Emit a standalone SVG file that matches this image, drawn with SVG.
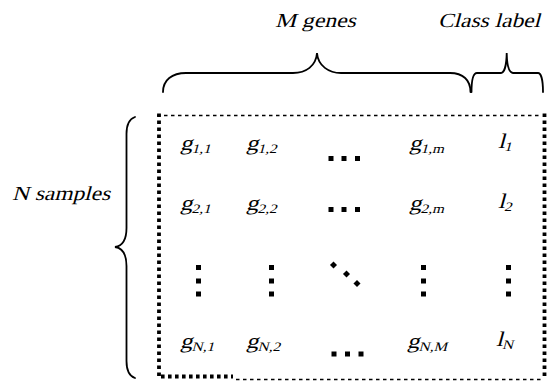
<svg xmlns="http://www.w3.org/2000/svg" width="548" height="381" viewBox="0 0 548 381">
  <style>
    .t { font-family: 'Liberation Serif', 'Times New Roman', 'DejaVu Serif', serif; font-style: normal; fill: #000; }
    .lab { font-size: 20px; }
    .cell { font-size: 21px; }
    .sub { font-size: 13px; }
    .brace { fill: none; stroke: #000; stroke-width: 1.8; stroke-linecap: round; }
    .thin { stroke: #000; stroke-width: 1.6; stroke-dasharray: 3.5 3.5; }
    .thick { stroke: #000; stroke-width: 3.8; stroke-dasharray: 3.6 3.4; }
  </style>
  <defs>
    <rect id="dot" x="-2.5" y="-2.5" width="5" height="5" fill="#000"/>
  </defs>

  <!-- braces -->
  <g id="braces">
    <path class="brace" d="M163,92 C163,80 172,73 186,73 L293,73 C306,73 316,66 317,53 C318,66 329,73 341,73 L450,73 C463,73 470.5,80 470.5,92"/>
    <path class="brace" d="M471.5,92 C471.5,80 473,73 477,73 L501,73 C504,73 506.5,66 506.7,53 C507,66 509,73 513,73 L538,73 C541,73 543,80 543,92"/>
    <path class="brace" d="M135,117 C129,119 126.5,124 126.5,134 L126.5,228 C126.5,240 122,246 115,247 C122,248 126.5,254 126.5,266 L126.5,361 C126.5,371 129,376 135,378"/>
  </g>

  <!-- axis labels (oblique by skew) -->
  <g id="labels">
    <text id="m-genes" class="t lab" transform="translate(275 27) scale(1.18 1) skewX(-13)">M genes</text>
    <text id="class-label" class="t lab" transform="translate(438 27) scale(1.17 1) skewX(-13)">Class label</text>
    <text id="n-samples" class="t lab" transform="translate(12 200) scale(1.17 1) skewX(-13)">N samples</text>
  </g>

  <!-- matrix frame -->
  <g id="frame">
    <line class="thin" x1="157" y1="115.5" x2="542" y2="115.5"/>
    <line class="thick" x1="159" y1="113.5" x2="159" y2="377"/>
    <line class="thick" x1="544.5" y1="113.5" x2="544.5" y2="378"/>
    <line class="thick" x1="161" y1="376.5" x2="233" y2="376.5"/>
    <line class="thin" x1="236" y1="379.5" x2="543" y2="379.5"/>
  </g>

  <!-- row 1 -->
  <g id="row-1">
    <text class="t cell" transform="translate(180 150) scale(1.18 1) skewX(-13)">g<tspan class="sub" dy="3">1,1</tspan></text>
    <text class="t cell" transform="translate(246 150) scale(1.18 1) skewX(-13)">g<tspan class="sub" dy="3">1,2</tspan></text>
    <use href="#dot" x="331" y="158.5"/>
    <use href="#dot" x="344" y="158.5"/>
    <use href="#dot" x="357.5" y="158.5"/>
    <text class="t cell" transform="translate(409 150) scale(1.18 1) skewX(-13)">g<tspan class="sub" dy="3">1,m</tspan></text>
    <text class="t cell" transform="translate(498 148) scale(1.18 1) skewX(-13)">l<tspan class="sub" dy="3">1</tspan></text>
  </g>

  <!-- row 2 -->
  <g id="row-2">
    <text class="t cell" transform="translate(180 210) scale(1.18 1) skewX(-13)">g<tspan class="sub" dy="3">2,1</tspan></text>
    <text class="t cell" transform="translate(246 210) scale(1.18 1) skewX(-13)">g<tspan class="sub" dy="3">2,2</tspan></text>
    <use href="#dot" x="331" y="209.5"/>
    <use href="#dot" x="344" y="209.5"/>
    <use href="#dot" x="357.5" y="209.5"/>
    <text class="t cell" transform="translate(409 210) scale(1.18 1) skewX(-13)">g<tspan class="sub" dy="3">2,m</tspan></text>
    <text class="t cell" transform="translate(498 208) scale(1.18 1) skewX(-13)">l<tspan class="sub" dy="3">2</tspan></text>
  </g>

  <!-- vertical and diagonal ellipses -->
  <g id="row-ellipsis">
    <use href="#dot" x="198.5" y="267.5"/>
    <use href="#dot" x="198.5" y="281"/>
    <use href="#dot" x="198.5" y="294"/>
    <use href="#dot" x="271.5" y="267.5"/>
    <use href="#dot" x="271.5" y="281"/>
    <use href="#dot" x="271.5" y="294"/>
    <use href="#dot" x="423.5" y="267.5"/>
    <use href="#dot" x="423.5" y="281"/>
    <use href="#dot" x="423.5" y="294"/>
    <use href="#dot" x="508.5" y="267.5"/>
    <use href="#dot" x="508.5" y="281"/>
    <use href="#dot" x="508.5" y="294"/>
    <use href="#dot" transform="translate(333.5 265) rotate(45)"/>
    <use href="#dot" transform="translate(346.5 274) rotate(45)"/>
    <use href="#dot" transform="translate(357 283.5) rotate(45)"/>
  </g>

  <!-- row N -->
  <g id="row-n">
    <text class="t cell" transform="translate(180 348) scale(1.18 1) skewX(-13)">g<tspan class="sub" dy="3">N,1</tspan></text>
    <text class="t cell" transform="translate(246 348) scale(1.18 1) skewX(-13)">g<tspan class="sub" dy="3">N,2</tspan></text>
    <use href="#dot" x="334" y="354"/>
    <use href="#dot" x="347.5" y="354"/>
    <use href="#dot" x="361" y="354"/>
    <text class="t cell" transform="translate(407 348) scale(1.18 1) skewX(-13)">g<tspan class="sub" dy="3">N,M</tspan></text>
    <text class="t cell" transform="translate(496 346) scale(1.18 1) skewX(-13)">l<tspan class="sub" dy="3">N</tspan></text>
  </g>
</svg>
